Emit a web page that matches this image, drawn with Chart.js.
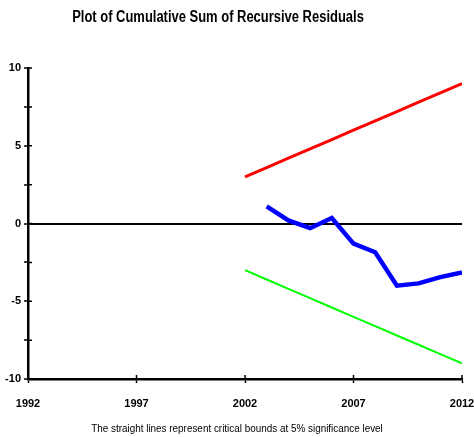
<!DOCTYPE html>
<html>
<head>
<meta charset="utf-8">
<script src="https://cdn.jsdelivr.net/npm/chart.js@4/dist/chart.umd.min.js"></script>
<style>
  body { margin: 0; background: #fff; }
  #wrap { position: relative; width: 474px; height: 437px; }
</style>
</head>
<body>
<div id="wrap"><canvas id="cusumChart"></canvas></div>
<script>
// CUSUM plot data
const boundYears = [2002, 2003, 2004, 2005, 2006, 2007, 2008, 2009, 2010, 2011, 2012];
const upperBound = [3.0, 3.6, 4.2, 4.8, 5.4, 6.0, 6.6, 7.2, 7.8, 8.4, 9.0];
const lowerBound = [-3.0, -3.6, -4.2, -4.8, -5.4, -6.0, -6.6, -7.2, -7.8, -8.4, -9.0];
const cusumYears = [2003, 2004, 2005, 2006, 2007, 2008, 2009, 2010, 2011, 2012];
const cusumValues = [1.1, 0.2, -0.3, 0.35, -1.3, -1.85, -4.0, -3.85, -3.45, -3.15];
const xTickLabels = [1992, 1997, 2002, 2007, 2012];
const yTickLabels = [-10, -5, 0, 5, 10];

const titleText = 'Plot of Cumulative Sum of Recursive Residuals';
const noteText = 'The straight lines represent critical bounds at 5% significance level';
const FONT = '"Liberation Sans", Arial, sans-serif';

function pts(xs, ys) { return xs.map((x, i) => ({ x: x, y: ys[i] })); }

// squeeze text horizontally, the original uses a narrow face
function narrowText(ctx, text, cx, cy, sx) {
  ctx.save();
  ctx.translate(cx, cy);
  ctx.scale(sx, 1);
  ctx.fillText(text, 0, 0);
  ctx.restore();
}

// title, footnote and the inner half of each tick mark
const extras = {
  id: 'extras',
  afterDraw(chart) {
    const ctx = chart.ctx, area = chart.chartArea;
    const xs = chart.scales.x, ys = chart.scales.y;
    ctx.save();
    ctx.strokeStyle = '#000';
    ctx.lineWidth = 1.5;
    ctx.beginPath();
    xs.ticks.forEach(t => {
      const px = xs.getPixelForValue(t.value);
      ctx.moveTo(px, area.bottom);
      ctx.lineTo(px, area.bottom - 4);
    });
    ys.ticks.forEach(t => {
      const py = ys.getPixelForValue(t.value);
      ctx.moveTo(area.left, py);
      ctx.lineTo(area.left + 4, py);
    });
    ctx.stroke();

    ctx.fillStyle = '#000';
    ctx.textBaseline = 'middle';
    ctx.textAlign = 'center';
    ctx.font = 'bold 16px ' + FONT;
    narrowText(ctx, titleText, 218, 18, 0.81);
    ctx.font = '11px ' + FONT;
    narrowText(ctx, noteText, 237, 429, 0.9);
    ctx.restore();
  }
};

const tickFont = { family: FONT, size: 11, weight: 'bold' };

new Chart(document.getElementById('cusumChart'), {
  type: 'line',
  data: {
    datasets: [
      { data: pts(boundYears, upperBound), borderColor: '#ff0000', borderWidth: 3 },
      { data: pts(boundYears, lowerBound), borderColor: '#00ff00', borderWidth: 2 },
      { data: pts(cusumYears, cusumValues), borderColor: '#0000ff', borderWidth: 4.5 }
    ]
  },
  options: {
    responsive: true,
    maintainAspectRatio: false,
    animation: false,
    events: [],
    elements: { point: { radius: 0 }, line: { tension: 0, borderCapStyle: 'butt' } },
    layout: { padding: { top: 68, bottom: 28, left: 0, right: 12 } },
    plugins: { legend: { display: false }, tooltip: { enabled: false } },
    scales: {
      x: {
        type: 'linear',
        min: xTickLabels[0],
        max: xTickLabels[xTickLabels.length - 1],
        afterFit: s => { s.height = 30; s.paddingLeft = 0; s.paddingRight = 0; },
        border: { color: '#000', width: 2.5 },
        grid: { drawOnChartArea: false, tickLength: 4, tickColor: '#000', tickWidth: 1.5 },
        ticks: {
          stepSize: 5, color: '#000', font: tickFont, padding: 14, maxRotation: 0,
          callback: v => xTickLabels.includes(v) ? String(v) : ''
        }
      },
      y: {
        min: yTickLabels[0],
        max: yTickLabels[yTickLabels.length - 1],
        afterFit: s => { s.width = 28; s.paddingTop = 0; s.paddingBottom = 0; },
        border: { color: '#000', width: 2.5 },
        grid: {
          color: c => c.tick && c.tick.value === 0 ? '#000' : 'rgba(0,0,0,0)',
          lineWidth: c => c.tick && c.tick.value === 0 ? 2 : 0,
          tickColor: '#000', tickWidth: 1.5, tickLength: 4
        },
        ticks: {
          stepSize: 2.5, color: '#000', font: tickFont, padding: 3,
          callback: v => yTickLabels.includes(v) ? String(v) : ''
        }
      }
    }
  },
  plugins: [extras]
});
</script>
</body>
</html>
